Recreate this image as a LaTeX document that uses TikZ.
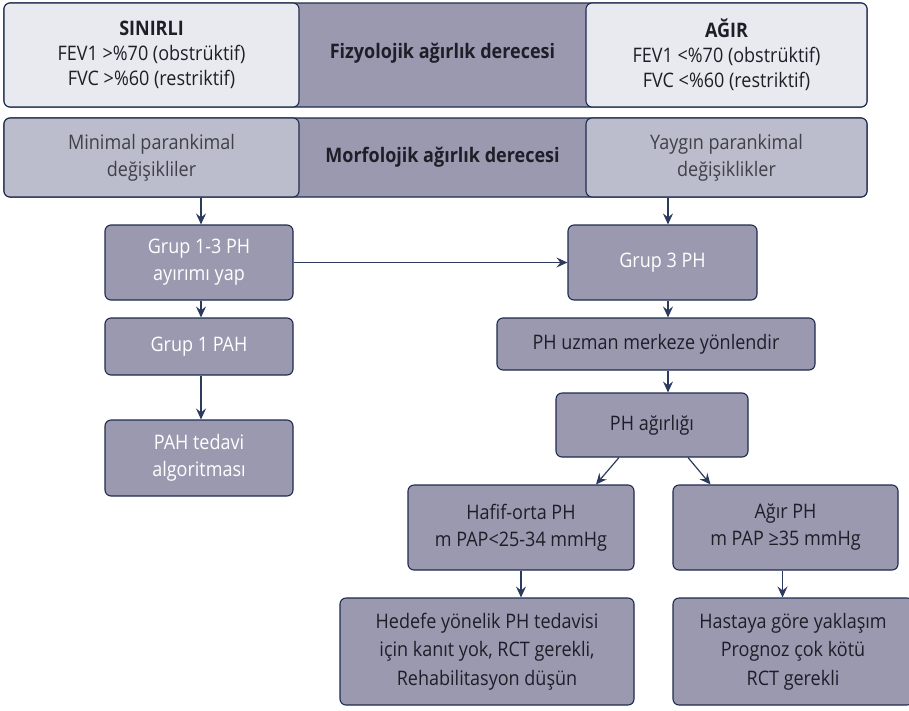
\documentclass[tikz,border=0pt]{standalone}
\usepackage{fontspec}
\setmainfont{Open Sans}[FakeStretch=0.9]
\usetikzlibrary{arrows.meta}
\definecolor{toplight}{HTML}{E9EAEF}
\definecolor{midlight}{HTML}{BCBDCC}
\definecolor{boxdark}{HTML}{9B99AF}
\definecolor{navy}{HTML}{1E2B4F}
\definecolor{arrcol}{HTML}{2C3A5E}
\definecolor{txtdark}{HTML}{1E1E28}
\begin{document}
\begin{tikzpicture}[x=1pt,y=-1pt,
  basebox/.style={draw=navy,line width=1.1pt,rounded corners=6pt,inner sep=0pt,align=center,
    font=\fontsize{20}{27}\selectfont},
  lightbox/.style={basebox,fill=toplight,text=txtdark},
  midbox/.style={basebox,fill=midlight,text=txtdark!85},
  darkbox/.style={basebox,fill=boxdark,text=txtdark},
  whitebox/.style={basebox,fill=boxdark,text=white},
  bandtxt/.style={inner sep=0pt,align=center,text=txtdark,font=\fontsize{20}{27}\selectfont\bfseries},
  arr/.style={draw=arrcol,line width=1.2pt,-{Stealth[length=11pt,width=10pt,inset=4pt]}}]
\useasboundingbox (0,0) rectangle (909,710);
% top band
\draw[draw=navy,line width=1.1pt,rounded corners=6pt,fill=boxdark] (4,3) rectangle (867,107);
\node[lightbox,minimum width=295pt,minimum height=104pt,font=\fontsize{20}{25}\selectfont] (tl) at (151.5,55)
  {{\bfseries SINIRLI}\\FEV1 >\%70 (obstrüktif)\\FVC >\%60 (restriktif)};
\node[lightbox,minimum width=281pt,minimum height=104pt,font=\fontsize{20}{25}\selectfont] (tr) at (726.5,55)
  {{\bfseries AĞIR}\\FEV1 <\%70 (obstrüktif)\\FVC <\%60 (restriktif)};
\node[bandtxt] (tc) at (442.5,53) {Fizyolojik ağırlık derecesi};
% second band
\draw[draw=navy,line width=1.1pt,rounded corners=6pt,fill=boxdark] (4,118) rectangle (867,197);
\node[midbox,minimum width=295pt,minimum height=79pt] (ml) at (151.5,157.5)
  {Minimal parankimal\\değişikliler};
\node[midbox,minimum width=281pt,minimum height=79pt] (mr) at (726.5,157.5)
  {Yaygın parankimal\\değişiklikler};
\node[bandtxt] (mc) at (442.5,157) {Morfolojik ağırlık derecesi};
% column coordinates
\coordinate (lc) at (201,0);
\coordinate (rc) at (668,0);
% left column
\node[whitebox,minimum width=188pt,minimum height=75pt] (g13) at (199,262.5) {Grup 1-3 PH\\ayırımı yap};
\node[whitebox,minimum width=188pt,minimum height=57pt] (g1) at (199,346.5) {Grup 1 PAH};
\node[whitebox,minimum width=188pt,minimum height=76pt] (pah) at (199,458) {PAH tedavi\\algoritması};
% right column
\node[whitebox,minimum width=189pt,minimum height=75pt] (g3) at (662.5,262.5) {Grup 3 PH};
\node[darkbox,minimum width=318pt,minimum height=52pt] (uz) at (656,344) {PH uzman merkeze yönlendir};
\node[darkbox,minimum width=192pt,minimum height=64pt] (ag) at (652,425) {PH ağırlığı};
\node[darkbox,minimum width=226pt,minimum height=85pt] (hf) at (521,527.5) {Hafif-orta PH\\m PAP<25-34 mmHg};
\node[darkbox,minimum width=225pt,minimum height=85pt] (ap) at (785.5,527.5) {Ağır PH\\m PAP ≥35 mmHg};
\node[darkbox,minimum width=294pt,minimum height=107pt,font=\fontsize{20}{28.5}\selectfont] (hd) at (487,651.5)
  {Hedefe yönelik PH tedavisi\\için kanıt yok, RCT gerekli,\\Rehabilitasyon düşün};
\node[darkbox,minimum width=240pt,minimum height=107pt,font=\fontsize{20}{28.5}\selectfont] (hs) at (793,651.5)
  {Hastaya göre yaklaşım\\Prognoz çok kötü\\RCT gerekli};
% arrows
\draw[arr] (lc |- ml.south) -- (lc |- g13.north);
\draw[arr] (lc |- g13.south) -- (lc |- g1.north);
\draw[arr] (lc |- g1.south) -- (lc |- pah.north);
\draw[arr] (rc |- mr.south) -- (rc |- g3.north);
\draw[arr] (g13.east) -- (g3.west);
\draw[arr] (rc |- g3.south) -- (rc |- uz.north);
\draw[arr] (rc |- uz.south) -- (rc |- ag.north);
\draw[arr] ([xshift=-33pt]ag.south) -- ([xshift=75pt]hf.north);
\draw[arr] ([xshift=36pt]ag.south) -- ([xshift=-75pt]ap.north);
\draw[arr] (hf.south) -- (hd.north -| hf.south);
\draw[arr] ([xshift=-3pt]ap.south) -- ([xshift=-3pt]ap.south |- hs.north);
\end{tikzpicture}
\end{document}
